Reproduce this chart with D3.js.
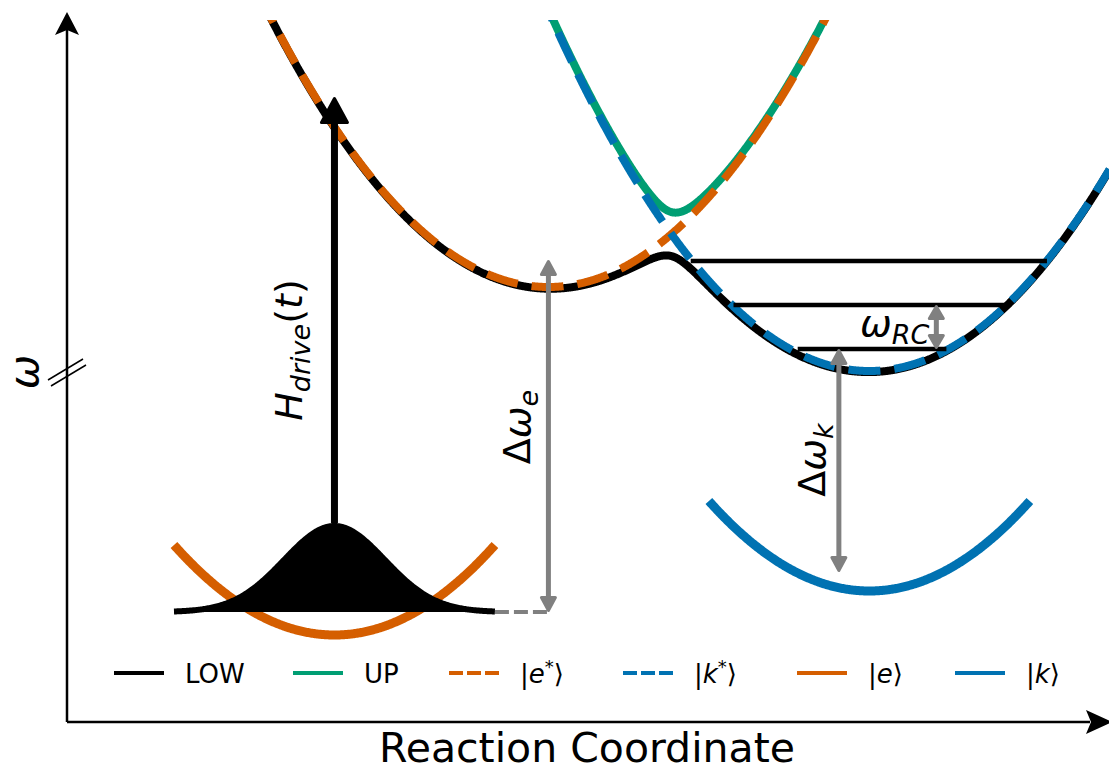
<!DOCTYPE html>
<html><head><meta charset="utf-8">
<script src="https://cdn.jsdelivr.net/npm/d3@7"></script>
<style>body{margin:0;background:#fff} svg{display:block} text{font-family:"DejaVu Sans",sans-serif}</style>
</head><body><svg id="c" width="1109" height="773"></svg>
<script>
// ---------------- data (schematic model parameters, data units) ----------------
const legendLabels = ["LOW", "UP", "|e*⟩", "|k*⟩", "|e⟩", "|k⟩"];
const excitedCenters = [0, 3];          // |e*>, |k*>
const excitedMinima = [8.7, 6.6];
const groundCenters = [-2, 3];          // |e>, |k>
const groundMinima = [0, 1.1];
const groundHalfWidth = [1.5, 1.5];
const curvature = [1.0];
const coupling = [0.55];
const levelEnergies = [7.15, 8.25, 9.35];
const levelLeft = [2.33, 1.73, 1.33];
const levelRight = [3.72, 4.27, 4.66];
const packetCenter = [-2];
const packetBase = [0.575];
const packetAmp = [2.15];
const packetSigma = [0.47];
const packetRange = [-3.5, -0.5];
const driveArrow = [-2, 2.8, 13.45];     // x, from, to
const gapEArrow = [0, 0.575, 9.375];
const gapKArrow = [2.715, 7.15, 1.575];
const rcArrow = [3.626, 8.25, 7.15];
const xDomain = [-4.5, 5.24];
const yDomain = [-2.175, 15.375];

// ---------------- setup ----------------
const svg = d3.select("#c");
const L = 67, R = 1109, T = 20, B = 722;
const x = d3.scaleLinear().domain(xDomain).range([L, R]);
const y = d3.scaleLinear().domain(yDomain).range([B, T]);
const col = {low:"#000000", up:"#009E73", e:"#D55E00", k:"#0072B2", grey:"#808080"};

svg.append("defs").append("clipPath").attr("id","plot")
  .append("rect").attr("x",L).attr("y",T).attr("width",R-L).attr("height",B-T);

const para = (c, m) => xx => curvature[0]*(xx-c)**2 + m;
const eS = para(excitedCenters[0], excitedMinima[0]);
const kS = para(excitedCenters[1], excitedMinima[1]);
const V = coupling[0];
const low = xx => { const a=eS(xx), b=kS(xx); return (a+b)/2 - Math.sqrt(((a-b)/2)**2 + V*V); };
const up  = xx => { const a=eS(xx), b=kS(xx); return (a+b)/2 + Math.sqrt(((a-b)/2)**2 + V*V); };

const xs = d3.range(xDomain[0], xDomain[1]+0.005, 0.005);
const line = d3.line().x(d=>x(d[0])).y(d=>y(d[1]));
const g = svg.append("g").attr("clip-path","url(#plot)");
function curve(f, color, w, dash, pts) {
  g.append("path").attr("d", line((pts||xs).map(v=>[v,f(v)]))).attr("fill","none")
   .attr("stroke",color).attr("stroke-width",w).attr("stroke-dasharray",dash||null)
   .attr("stroke-linecap","butt");
}
// ground parabolas
[0,1].forEach(i=>{
  const c=groundCenters[i], pts=d3.range(c-groundHalfWidth[i], c+groundHalfWidth[i]+0.001, 0.01);
  curve(para(c, groundMinima[i]), i===0?col.e:col.k, 9, null, pts);
});
// adiabatic / diabatic curves
curve(low, col.low, 8);
curve(up, col.up, 8);
curve(eS, col.e, 8, "32,14");
curve(kS, col.k, 8, "32,14");

// vibrational levels
levelEnergies.forEach((E,i)=>{
  svg.append("line").attr("x1",x(levelLeft[i])).attr("x2",x(levelRight[i]))
    .attr("y1",y(E)).attr("y2",y(E)).attr("stroke","#000").attr("stroke-width",4.5);
});

// wave packet
const gauss = xx => packetBase[0] + packetAmp[0]*Math.exp(-((xx-packetCenter[0])**2)/(2*packetSigma[0]**2));
const gp = d3.range(packetRange[0], packetRange[1]+0.001, 0.01);
svg.append("path").attr("d", d3.area().x(d=>x(d)).y0(y(packetBase[0])).y1(d=>y(gauss(d)))(gp)).attr("fill","#000");
svg.append("path").attr("d", line(gp.map(v=>[v,gauss(v)]))).attr("fill","none").attr("stroke","#000").attr("stroke-width",6);
// grey dashed connector
svg.append("line").attr("x1",x(packetRange[1])).attr("x2",x(gapEArrow[0]))
  .attr("y1",y(packetBase[0])).attr("y2",y(packetBase[0]))
  .attr("stroke",col.grey).attr("stroke-width",4).attr("stroke-dasharray","14,5");

// arrows
function head(xt, yt, ux, uy, w, l, color) {
  const bx = xt-ux*l, by = yt-uy*l, px=-uy, py=ux;
  svg.append("path").attr("d",`M${xt},${yt}L${bx+px*w/2},${by+py*w/2}L${bx-px*w/2},${by-py*w/2}Z`)
    .attr("fill",color).attr("stroke",color).attr("stroke-width",3).attr("stroke-linejoin","round");
}
function arrow(x1,y1,x2,y2,opt){
  const dx=x2-x1, dy=y2-y1, len=Math.hypot(dx,dy), ux=dx/len, uy=dy/len;
  const sx = opt.both ? x1+ux*opt.l*0.8 : x1, sy = opt.both ? y1+uy*opt.l*0.8 : y1;
  svg.append("line").attr("x1",sx).attr("y1",sy).attr("x2",x2-ux*opt.l*0.8).attr("y2",y2-uy*opt.l*0.8)
    .attr("stroke",opt.color).attr("stroke-width",opt.lw);
  head(x2-ux*1.5,y2-uy*1.5,ux,uy,opt.w,opt.l,opt.color);
  if(opt.both) head(x1+ux*1.5,y1+uy*1.5,-ux,-uy,opt.w,opt.l,opt.color);
}
arrow(x(driveArrow[0]), y(driveArrow[1]), x(driveArrow[0]), y(driveArrow[2]), {color:"#000", lw:7, w:26, l:24});
arrow(x(gapEArrow[0]), y(gapEArrow[1]), x(gapEArrow[0]), y(gapEArrow[2]), {color:col.grey, lw:5, w:14, l:13, both:true});
arrow(x(gapKArrow[0]), y(gapKArrow[1]), x(gapKArrow[0]), y(gapKArrow[2]), {color:col.grey, lw:5, w:14, l:13, both:true});
arrow(x(rcArrow[0]), y(rcArrow[1]), x(rcArrow[0]), y(rcArrow[2]), {color:col.grey, lw:5, w:14, l:12, both:true});

// axes
const ax = svg.append("g");
ax.append("line").attr("x1",L).attr("y1",B).attr("x2",L).attr("y2",30).attr("stroke","#000").attr("stroke-width",2.5);
ax.append("line").attr("x1",L).attr("y1",B).attr("x2",1090).attr("y2",B).attr("stroke","#000").attr("stroke-width",2.5);
ax.append("path").attr("d",`M${L},12L${L+12},35L${L},30L${L-12},35Z`).attr("fill","#000");
ax.append("path").attr("d",`M1112,${B}L1086,${B-12}L1091,${B}L1086,${B+12}Z`).attr("fill","#000");
// axis break
[[48,380,83,359],[51,386,86,365]].forEach(s=>ax.append("line").attr("x1",s[0]).attr("y1",s[1]).attr("x2",s[2]).attr("y2",s[3]).attr("stroke","#000").attr("stroke-width",1.5));

svg.append("text").attr("x",587).attr("y",762).attr("text-anchor","middle").attr("font-size",41).text("Reaction Coordinate");
svg.append("text").attr("transform","translate(38,372) rotate(-90)").attr("text-anchor","middle")
  .attr("font-size",41).attr("font-style","italic").text("ω");

// math labels
function mathLabel(tr, parts, anchor) {
  const t = svg.append("text").attr("transform",tr).attr("text-anchor",anchor||"middle");
  parts.forEach(p=>{
    t.append("tspan").text(p[0]).attr("font-size",p[1]).attr("font-style",p[2]?"italic":"normal").attr("dy",p[3]||0);
  });
  return t;
}
mathLabel("translate(302,350) rotate(-90)", [["H",38,1],["drive",27,1,8],["(",38,0,-8],["t",38,1],[")",38,0]]);
mathLabel("translate(530,427) rotate(-90)", [["Δ",38,0],["ω",38,1],["e",27,1,8]]);
mathLabel("translate(825,460) rotate(-90)", [["Δ",38,0],["ω",38,1],["k",27,1,8]]);
mathLabel("translate(860,336)", [["ω",38,1],["RC",27,1,8]], "start");

// legend
const hx = [114, 293, 449, 623, 797, 955];
const hStyle = [[col.low,null],[col.up,null],[col.e,"14,4"],[col.k,"14,4"],[col.e,null],[col.k,null]];
const legendParts = [
  [["LOW",26,0]], [["UP",26,0]],
  [["|",26,0],["e",26,1],["*",18,0,-10],["⟩",26,0,10]],
  [["|",26,0],["k",26,1],["*",18,0,-10],["⟩",26,0,10]],
  [["|",26,0],["e",26,1],["⟩",26,0]],
  [["|",26,0],["k",26,1],["⟩",26,0]]
];
legendLabels.forEach((lab,i)=>{
  svg.append("line").attr("x1",hx[i]).attr("x2",hx[i]+50).attr("y1",673).attr("y2",673)
    .attr("stroke",hStyle[i][0]).attr("stroke-width",4).attr("stroke-dasharray",hStyle[i][1]);
  const t = svg.append("text").attr("x",hx[i]+71).attr("y",683).attr("data-label",lab);
  legendParts[i].forEach(p=>t.append("tspan").text(p[0]).attr("font-size",p[1])
    .attr("font-style",p[2]?"italic":"normal").attr("dy",p[3]||0));
});
</script></body></html>
